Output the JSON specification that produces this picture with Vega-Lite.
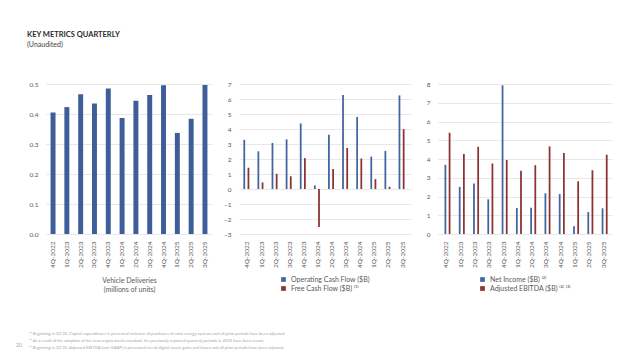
{
  "$schema": "https://vega.github.io/schema/vega-lite/v6.json",
  "background": "white",
  "padding": {"left": 16, "top": 30, "right": 5, "bottom": 5},
  "title": {
    "text": "KEY METRICS QUARTERLY",
    "subtitle": "(Unaudited)",
    "anchor": "start",
    "dx": 11,
    "font": "Lato",
    "fontSize": 7.5,
    "fontWeight": "bold",
    "color": "#2b2b2b",
    "subtitleFont": "Lato",
    "subtitleFontSize": 7,
    "subtitleColor": "#404040",
    "subtitlePadding": 3,
    "offset": 33
  },
  "config": {
    "view": {"stroke": null},
    "font": "Lato",
    "axis": {
      "labelFont": "Lato",
      "labelFontSize": 6.5,
      "labelColor": "#595959",
      "titleFont": "Lato",
      "titleFontSize": 7,
      "titleFontWeight": "normal",
      "titleColor": "#595959",
      "domain": false,
      "ticks": false,
      "gridColor": "#d9d9d9",
      "gridWidth": 0.6
    },
    "axisX": {"labelAngle": -90, "labelPadding": 7, "grid": false},
    "axisY": {"labelPadding": 8, "minExtent": 19, "maxExtent": 19},
    "legend": {
      "orient": "bottom",
      "direction": "vertical",
      "labelFont": "Lato",
      "labelFontSize": 7,
      "labelColor": "#595959",
      "symbolType": "square",
      "symbolSize": 22,
      "symbolStrokeWidth": 0,
      "rowPadding": 1,
      "padding": 0,
      "offset": 8,
      "layout": {"bottom": {"anchor": "middle"}}
    },
    "concat": {"spacing": 8}
  },
  "datasets": {
    "deliveries": [
      {"q": "4Q-2022", "v": 0.405},
      {"q": "1Q-2023", "v": 0.423},
      {"q": "2Q-2023", "v": 0.466},
      {"q": "3Q-2023", "v": 0.435},
      {"q": "4Q-2023", "v": 0.485},
      {"q": "1Q-2024", "v": 0.387},
      {"q": "2Q-2024", "v": 0.444},
      {"q": "3Q-2024", "v": 0.463},
      {"q": "4Q-2024", "v": 0.496},
      {"q": "1Q-2025", "v": 0.337},
      {"q": "2Q-2025", "v": 0.384},
      {"q": "3Q-2025", "v": 0.497}
    ],
    "cash": [
      {"q": "4Q-2022", "s": "Operating Cash Flow ($B)", "v": 3.28},
      {"q": "4Q-2022", "s": "Free Cash Flow ($B) ⁽¹⁾", "v": 1.42},
      {"q": "1Q-2023", "s": "Operating Cash Flow ($B)", "v": 2.51},
      {"q": "1Q-2023", "s": "Free Cash Flow ($B) ⁽¹⁾", "v": 0.44},
      {"q": "2Q-2023", "s": "Operating Cash Flow ($B)", "v": 3.07},
      {"q": "2Q-2023", "s": "Free Cash Flow ($B) ⁽¹⁾", "v": 1.01},
      {"q": "3Q-2023", "s": "Operating Cash Flow ($B)", "v": 3.31},
      {"q": "3Q-2023", "s": "Free Cash Flow ($B) ⁽¹⁾", "v": 0.85},
      {"q": "4Q-2023", "s": "Operating Cash Flow ($B)", "v": 4.37},
      {"q": "4Q-2023", "s": "Free Cash Flow ($B) ⁽¹⁾", "v": 2.06},
      {"q": "1Q-2024", "s": "Operating Cash Flow ($B)", "v": 0.24},
      {"q": "1Q-2024", "s": "Free Cash Flow ($B) ⁽¹⁾", "v": -2.53},
      {"q": "2Q-2024", "s": "Operating Cash Flow ($B)", "v": 3.61},
      {"q": "2Q-2024", "s": "Free Cash Flow ($B) ⁽¹⁾", "v": 1.34},
      {"q": "3Q-2024", "s": "Operating Cash Flow ($B)", "v": 6.26},
      {"q": "3Q-2024", "s": "Free Cash Flow ($B) ⁽¹⁾", "v": 2.74},
      {"q": "4Q-2024", "s": "Operating Cash Flow ($B)", "v": 4.81},
      {"q": "4Q-2024", "s": "Free Cash Flow ($B) ⁽¹⁾", "v": 2.03},
      {"q": "1Q-2025", "s": "Operating Cash Flow ($B)", "v": 2.16},
      {"q": "1Q-2025", "s": "Free Cash Flow ($B) ⁽¹⁾", "v": 0.66},
      {"q": "2Q-2025", "s": "Operating Cash Flow ($B)", "v": 2.54},
      {"q": "2Q-2025", "s": "Free Cash Flow ($B) ⁽¹⁾", "v": 0.15},
      {"q": "3Q-2025", "s": "Operating Cash Flow ($B)", "v": 6.24},
      {"q": "3Q-2025", "s": "Free Cash Flow ($B) ⁽¹⁾", "v": 3.99}
    ],
    "income": [
      {"q": "4Q-2022", "s": "Net Income ($B) ⁽²⁾", "v": 3.69},
      {"q": "4Q-2022", "s": "Adjusted EBITDA ($B) ⁽²⁾ ⁽³⁾", "v": 5.40},
      {"q": "1Q-2023", "s": "Net Income ($B) ⁽²⁾", "v": 2.51},
      {"q": "1Q-2023", "s": "Adjusted EBITDA ($B) ⁽²⁾ ⁽³⁾", "v": 4.27},
      {"q": "2Q-2023", "s": "Net Income ($B) ⁽²⁾", "v": 2.70},
      {"q": "2Q-2023", "s": "Adjusted EBITDA ($B) ⁽²⁾ ⁽³⁾", "v": 4.65},
      {"q": "3Q-2023", "s": "Net Income ($B) ⁽²⁾", "v": 1.85},
      {"q": "3Q-2023", "s": "Adjusted EBITDA ($B) ⁽²⁾ ⁽³⁾", "v": 3.76},
      {"q": "4Q-2023", "s": "Net Income ($B) ⁽²⁾", "v": 7.93},
      {"q": "4Q-2023", "s": "Adjusted EBITDA ($B) ⁽²⁾ ⁽³⁾", "v": 3.95},
      {"q": "1Q-2024", "s": "Net Income ($B) ⁽²⁾", "v": 1.39},
      {"q": "1Q-2024", "s": "Adjusted EBITDA ($B) ⁽²⁾ ⁽³⁾", "v": 3.38},
      {"q": "2Q-2024", "s": "Net Income ($B) ⁽²⁾", "v": 1.40},
      {"q": "2Q-2024", "s": "Adjusted EBITDA ($B) ⁽²⁾ ⁽³⁾", "v": 3.67},
      {"q": "3Q-2024", "s": "Net Income ($B) ⁽²⁾", "v": 2.17},
      {"q": "3Q-2024", "s": "Adjusted EBITDA ($B) ⁽²⁾ ⁽³⁾", "v": 4.67},
      {"q": "4Q-2024", "s": "Net Income ($B) ⁽²⁾", "v": 2.13},
      {"q": "4Q-2024", "s": "Adjusted EBITDA ($B) ⁽²⁾ ⁽³⁾", "v": 4.32},
      {"q": "1Q-2025", "s": "Net Income ($B) ⁽²⁾", "v": 0.41},
      {"q": "1Q-2025", "s": "Adjusted EBITDA ($B) ⁽²⁾ ⁽³⁾", "v": 2.81},
      {"q": "2Q-2025", "s": "Net Income ($B) ⁽²⁾", "v": 1.17},
      {"q": "2Q-2025", "s": "Adjusted EBITDA ($B) ⁽²⁾ ⁽³⁾", "v": 3.40},
      {"q": "3Q-2025", "s": "Net Income ($B) ⁽²⁾", "v": 1.37},
      {"q": "3Q-2025", "s": "Adjusted EBITDA ($B) ⁽²⁾ ⁽³⁾", "v": 4.23}
    ],
    "notes": [
      {"line": 1, "text": "⁽¹⁾ Beginning in Q1'25, Capital expenditures is presented inclusive of purchases of solar energy systems and all prior periods have been adjusted."},
      {"line": 2, "text": "⁽²⁾ As a result of the adoption of the new crypto assets standard, the previously reported quarterly periods in 2024 have been recast."},
      {"line": 3, "text": "⁽³⁾ Beginning in Q1'25, Adjusted EBITDA (non-GAAP) is presented net of digital assets gains and losses and all prior periods have been adjusted."}
    ],
    "page": [
      {"line": 2, "text": "20"}
    ]
  },
  "vconcat": [
    {
      "hconcat": [
        {
          "width": 166,
          "height": 150,
          "data": {"name": "deliveries"},
          "mark": {"type": "bar", "color": "#3f5e99"},
          "encoding": {
            "x": {
              "field": "q", "type": "ordinal", "sort": null,
              "scale": {"paddingInner": 0.64, "paddingOuter": 0.33},
              "axis": {"title": ["Vehicle Deliveries", "(millions of units)"], "titlePadding": 9, "titleLineHeight": 9}
            },
            "y": {
              "field": "v", "type": "quantitative",
              "scale": {"domain": [0, 0.5], "nice": false},
              "axis": {"title": null, "values": [0, 0.1, 0.2, 0.3, 0.4, 0.5], "format": ".1f", "minExtent": 30, "maxExtent": 30}
            }
          }
        },
        {
          "width": 172,
          "height": 150,
          "data": {"name": "cash"},
          "mark": {"type": "bar"},
          "encoding": {
            "x": {
              "field": "q", "type": "ordinal", "sort": null,
              "scale": {"paddingInner": 0.43, "paddingOuter": 0.31},
              "axis": {"title": null}
            },
            "xOffset": {
              "field": "s", "type": "nominal",
              "sort": ["Operating Cash Flow ($B)", "Free Cash Flow ($B) ⁽¹⁾"],
              "scale": {"paddingInner": 0.15}
            },
            "y": {
              "field": "v", "type": "quantitative",
              "scale": {"domain": [-3, 7], "nice": false},
              "axis": {"title": null, "values": [-3, -2, -1, 0, 1, 2, 3, 4, 5, 6, 7]}
            },
            "color": {
              "field": "s", "type": "nominal",
              "sort": ["Operating Cash Flow ($B)", "Free Cash Flow ($B) ⁽¹⁾"],
              "scale": {"domain": ["Operating Cash Flow ($B)", "Free Cash Flow ($B) ⁽¹⁾"], "range": ["#4265a0", "#8e3232"]},
              "legend": {"title": null}
            }
          }
        },
        {
          "width": 174,
          "height": 150,
          "data": {"name": "income"},
          "mark": {"type": "bar"},
          "encoding": {
            "x": {
              "field": "q", "type": "ordinal", "sort": null,
              "scale": {"paddingInner": 0.44, "paddingOuter": 0.31},
              "axis": {"title": null}
            },
            "xOffset": {
              "field": "s", "type": "nominal",
              "sort": ["Net Income ($B) ⁽²⁾", "Adjusted EBITDA ($B) ⁽²⁾ ⁽³⁾"],
              "scale": {"paddingInner": 0.15}
            },
            "y": {
              "field": "v", "type": "quantitative",
              "scale": {"domain": [0, 8], "nice": false},
              "axis": {"title": null, "values": [0, 1, 2, 3, 4, 5, 6, 7, 8]}
            },
            "color": {
              "field": "s", "type": "nominal",
              "sort": ["Net Income ($B) ⁽²⁾", "Adjusted EBITDA ($B) ⁽²⁾ ⁽³⁾"],
              "scale": {"domain": ["Net Income ($B) ⁽²⁾", "Adjusted EBITDA ($B) ⁽²⁾ ⁽³⁾"], "range": ["#4265a0", "#8e3232"]},
              "legend": {"title": null}
            }
          }
        }
      ],
      "resolve": {"scale": {"color": "independent"}, "legend": {"color": "independent"}}
    },
    {
      "width": 560,
      "height": 22,
      "layer": [
        {
          "data": {"name": "notes"},
          "mark": {"type": "text", "align": "left", "baseline": "middle", "font": "Lato", "fontSize": 4.1, "color": "#a6a6a6", "dx": -17},
          "encoding": {
            "x": {"value": 0},
            "y": {"field": "line", "type": "ordinal", "scale": {"type": "point", "padding": 0.5}, "axis": null},
            "text": {"field": "text"}
          }
        },
        {
          "data": {"name": "page"},
          "mark": {"type": "text", "align": "left", "baseline": "middle", "font": "Lato", "fontSize": 5, "color": "#a6a6a6", "dx": -30, "dy": 4},
          "encoding": {
            "x": {"value": 0},
            "y": {"field": "line", "type": "ordinal", "axis": null},
            "text": {"field": "text"}
          }
        }
      ]
    }
  ],
  "spacing": 37
}
